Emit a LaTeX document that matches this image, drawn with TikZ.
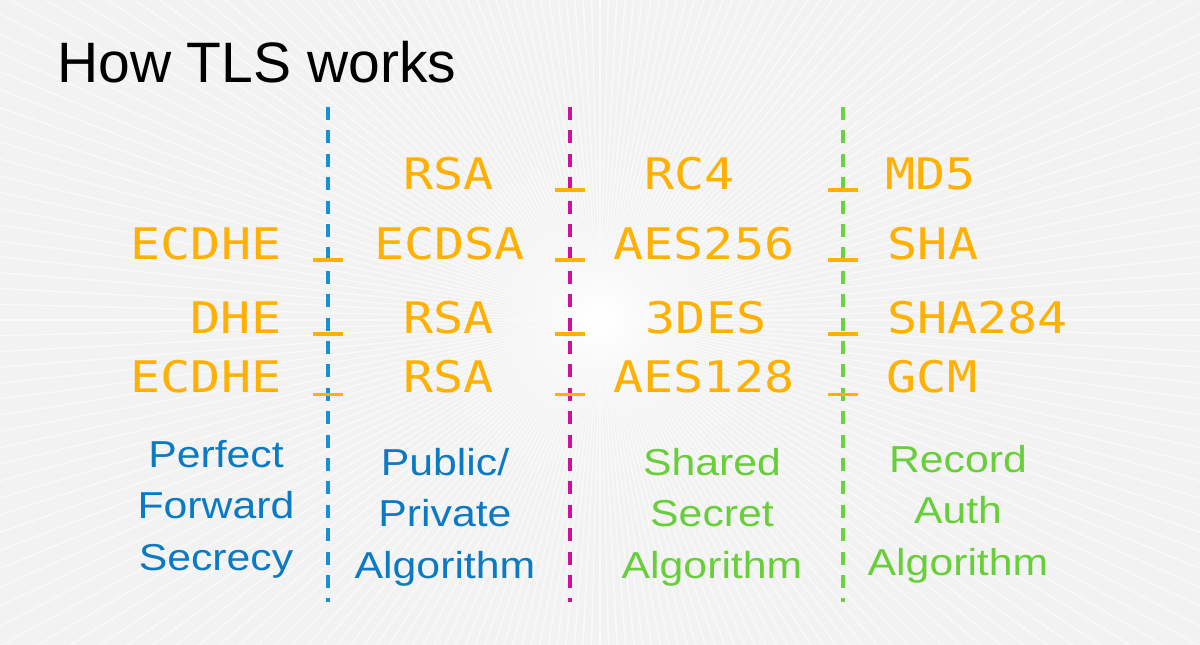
\documentclass[tikz,border=0pt]{standalone}
\usepackage{fontspec}
\setmainfont{Liberation Sans}
\newfontfamily\monof[FakeStretch=1.15]{DejaVu Sans Mono}
\newfontfamily\labf[FakeStretch=1.14]{Liberation Sans}
\definecolor{bgc}{RGB}{242,242,242}
\definecolor{tlsorange}{RGB}{255,176,0}
\definecolor{tlsblue}{RGB}{10,122,196}
\definecolor{lineblue}{RGB}{22,146,210}
\definecolor{tlsmag}{RGB}{206,16,154}
\definecolor{tlsgreen}{RGB}{104,206,58}
\definecolor{linegreen}{RGB}{108,208,66}
\tikzset{
  algo/.style={inner sep=0pt, anchor=base, text=tlsorange, font=\monof\fontsize{43.5}{50}\selectfont},
  lab/.style={inner sep=0pt, anchor=base, align=center, font=\labf\fontsize{37.5}{51.5}\selectfont},
  divider/.style={line width=3.9pt, dash pattern=on 13pt off 10.4pt},
  tick/.style={draw=tlsorange, line width=3.6pt},
}
\begin{document}
\begin{tikzpicture}[x=1pt,y=-1pt]
\useasboundingbox (0,0) rectangle (1200,645);
% background with faint rays
\fill[bgc] (0,0) rectangle (1200,645);
\begin{scope}
\clip (0,0) rectangle (1200,645);
\foreach \a in {0,1.5,...,358.5} {
  \draw[white, line width=1.3pt, opacity=0.6] (600,320) -- ++(\a:1000);
}
\end{scope}
% title
\node[inner sep=0pt, anchor=base west, font=\fontsize{57}{60}\selectfont] (title) at (57,82.7) {How TLS works};
% dividers
\coordinate (bt) at (328.3,107); \coordinate (bb) at (328.3,602);
\coordinate (mt) at (570.3,107); \coordinate (mb) at (570.3,602);
\coordinate (gt) at (842.7,107); \coordinate (gb) at (842.7,602);
\draw[divider, draw=lineblue] (bt) -- (bb);
\draw[divider, draw=tlsmag] (mt) -- (mb);
\draw[divider, draw=linegreen] (gt) -- (gb);
% ticks
\foreach \x/\n in {328.3/b, 570.3/m, 842.7/g} {
  \foreach \y/\r in {190/1, 260/2, 334/3, 394.3/4} {
    \coordinate (\n\r l) at (\x-15,\y);
    \coordinate (\n\r r) at (\x+15,\y);
  }
}
\foreach \n in {m,g} { \draw[tick] (\n1l) -- (\n1r); }
\foreach \n in {b,m,g} {
  \foreach \r in {2,3,4} { \draw[tick] (\n\r l) -- (\n\r r); }
}
% row 1
\node[algo] (r1b) at (448.5,189.3) {RSA};
\node[algo] (r1c) at (689.5,189.3) {RC4};
\node[algo] (r1d) at (930.5,189.3) {MD5};
% row 2
\node[algo] (r2a) at (206,259.3) {ECDHE};
\node[algo] (r2b) at (449.5,259.3) {ECDSA};
\node[algo] (r2c) at (704,259.3) {AES256};
\node[algo] (r2d) at (933,259.3) {SHA};
% row 3
\node[algo] (r3a) at (236,333.3) {DHE};
\node[algo] (r3b) at (448.5,333.3) {RSA};
\node[algo] (r3c) at (706,333.3) {3DES};
\node[algo] (r3d) at (977.5,333.3) {SHA284};
% row 4
\node[algo] (r4a) at (206,392.7) {ECDHE};
\node[algo] (r4b) at (448.5,392.7) {RSA};
\node[algo] (r4c) at (704,392.7) {AES128};
\node[algo] (r4d) at (932,392.7) {GCM};
% labels (anchor base = baseline of the last line)
\node[lab, text=tlsblue] (pfs) at (216,570) {Perfect\\Forward\\Secrecy};
\node[lab, text=tlsblue] (ppa) at (445,578) {Public/\\Private\\Algorithm};
\node[lab, text=tlsgreen] (ssa) at (712,578) {Shared\\Secret\\Algorithm};
\node[lab, text=tlsgreen] (raa) at (958,575) {Record\\Auth\\Algorithm};
\end{tikzpicture}
\end{document}
